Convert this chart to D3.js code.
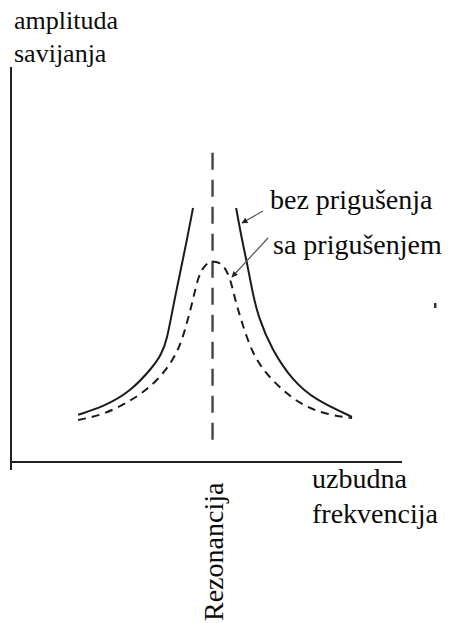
<!DOCTYPE html>
<html>
<head>
<meta charset="utf-8">
<script src="https://cdn.jsdelivr.net/npm/d3@7"></script>
<style>
  body { margin: 0; background: #fff; }
</style>
</head>
<body>
<div id="plot"></div>
<script>
// frequency (resonance = 1) and amplitude
const undampedLeft = [
  [0.333, 1.18], [0.457, 1.38], [0.591, 1.75], [0.705, 2.38], [0.745, 2.68],
  [0.774, 3.05], [0.804, 3.88], [0.839, 4.73], [0.873, 5.55], [0.903, 6.35]
];
const undampedRight = [
  [1.117, 6.35], [1.146, 5.55], [1.171, 4.98], [1.196, 4.30], [1.226, 3.63],
  [1.295, 2.80], [1.395, 2.05], [1.509, 1.55], [1.692, 1.13]
];
const damped = [
  [0.333, 1.05], [0.457, 1.18], [0.576, 1.48], [0.675, 1.80], [0.774, 2.30],
  [0.839, 2.88], [0.873, 3.48], [0.903, 4.05], [0.928, 4.63], [0.963, 4.95],
  [1.002, 5.03], [1.047, 4.98], [1.087, 4.63], [1.112, 4.05], [1.146, 3.48],
  [1.196, 2.73], [1.261, 2.23], [1.360, 1.73], [1.459, 1.38], [1.573, 1.18],
  [1.692, 1.10]
];
const resonance = 1.0;
const resonanceSpan = [0.43, 7.73];
const yLabel = ["amplituda", "savijanja"];
const xLabel = ["uzbudna", "frekvencija"];
const resonanceLabel = "Rezonancija";
const undampedLabel = "bez prigušenja";
const dampedLabel = "sa prigušenjem";

const w = 449, h = 623;
const axisX = 11, axisY = 462;
// no serif face is installed, so this falls through to the default sans
const FONT = "'Liberation Serif', 'Times New Roman', serif";

const x = d3.scaleLinear().domain([0, 1.94]).range([axisX, 402]);
const y = d3.scaleLinear().domain([0, 10]).range([axisY, 62]);

const svg = d3.select("#plot").append("svg")
  .attr("width", w).attr("height", h);

// axes: plain lines, no ticks
svg.append("line")
  .attr("x1", axisX).attr("x2", axisX)
  .attr("y1", 67).attr("y2", 470)
  .attr("stroke", "#222").attr("stroke-width", 2);
svg.append("line")
  .attr("x1", axisX).attr("x2", x.range()[1])
  .attr("y1", axisY).attr("y2", axisY)
  .attr("stroke", "#222").attr("stroke-width", 2);

// resonance line
svg.append("line")
  .attr("x1", x(resonance)).attr("x2", x(resonance))
  .attr("y1", y(resonanceSpan[1])).attr("y2", y(resonanceSpan[0]))
  .attr("stroke", "#444").attr("stroke-width", 2.4)
  .attr("stroke-dasharray", "17,10");

const line = d3.line()
  .x(d => x(d[0]))
  .y(d => y(d[1]))
  .curve(d3.curveBasis);

[undampedLeft, undampedRight].forEach(arr => {
  svg.append("path")
    .attr("d", line(arr))
    .attr("fill", "none")
    .attr("stroke", "#1a1a1a")
    .attr("stroke-width", 2);
});

svg.append("path")
  .attr("d", line(damped))
  .attr("fill", "none")
  .attr("stroke", "#1a1a1a")
  .attr("stroke-width", 2)
  .attr("stroke-dasharray", "8,6");

// annotation pointers
svg.append("defs").append("marker")
  .attr("id", "head")
  .attr("viewBox", "0 0 10 10")
  .attr("refX", 9).attr("refY", 5)
  .attr("markerWidth", 7).attr("markerHeight", 5)
  .attr("orient", "auto")
  .append("path").attr("d", "M0,0L10,5L0,10z").attr("fill", "#222");

const pointers = [
  [[263, 211], [242, 223]],
  [[268, 238], [232, 277]]
];
pointers.forEach(p => {
  svg.append("line")
    .attr("x1", p[0][0]).attr("y1", p[0][1])
    .attr("x2", p[1][0]).attr("y2", p[1][1])
    .attr("stroke", "#555").attr("stroke-width", 1.2)
    .attr("marker-end", "url(#head)");
});

// labels
const label = (sel, size) => sel.style("font-family", FONT).attr("font-size", size).attr("fill", "#0a0a0a");

yLabel.forEach((t, i) => {
  svg.append("text").call(label, 26).attr("x", 14).attr("y", 29 + i * 33).text(t);
});
xLabel.forEach((t, i) => {
  svg.append("text").call(label, 28).attr("x", 312).attr("y", 488 + i * 35).text(t);
});
svg.append("text").call(label, 28).attr("x", 270).attr("y", 209).text(undampedLabel);
svg.append("text").call(label, 28).attr("x", 273).attr("y", 254).text(dampedLabel);
svg.append("text").call(label, 28)
  .attr("transform", "translate(223,621) rotate(-90)")
  .text(resonanceLabel);

// stray speck in the scan
svg.append("rect")
  .attr("x", 434).attr("y", 303).attr("width", 2.5).attr("height", 5)
  .attr("fill", "#333");
</script>
</body>
</html>
